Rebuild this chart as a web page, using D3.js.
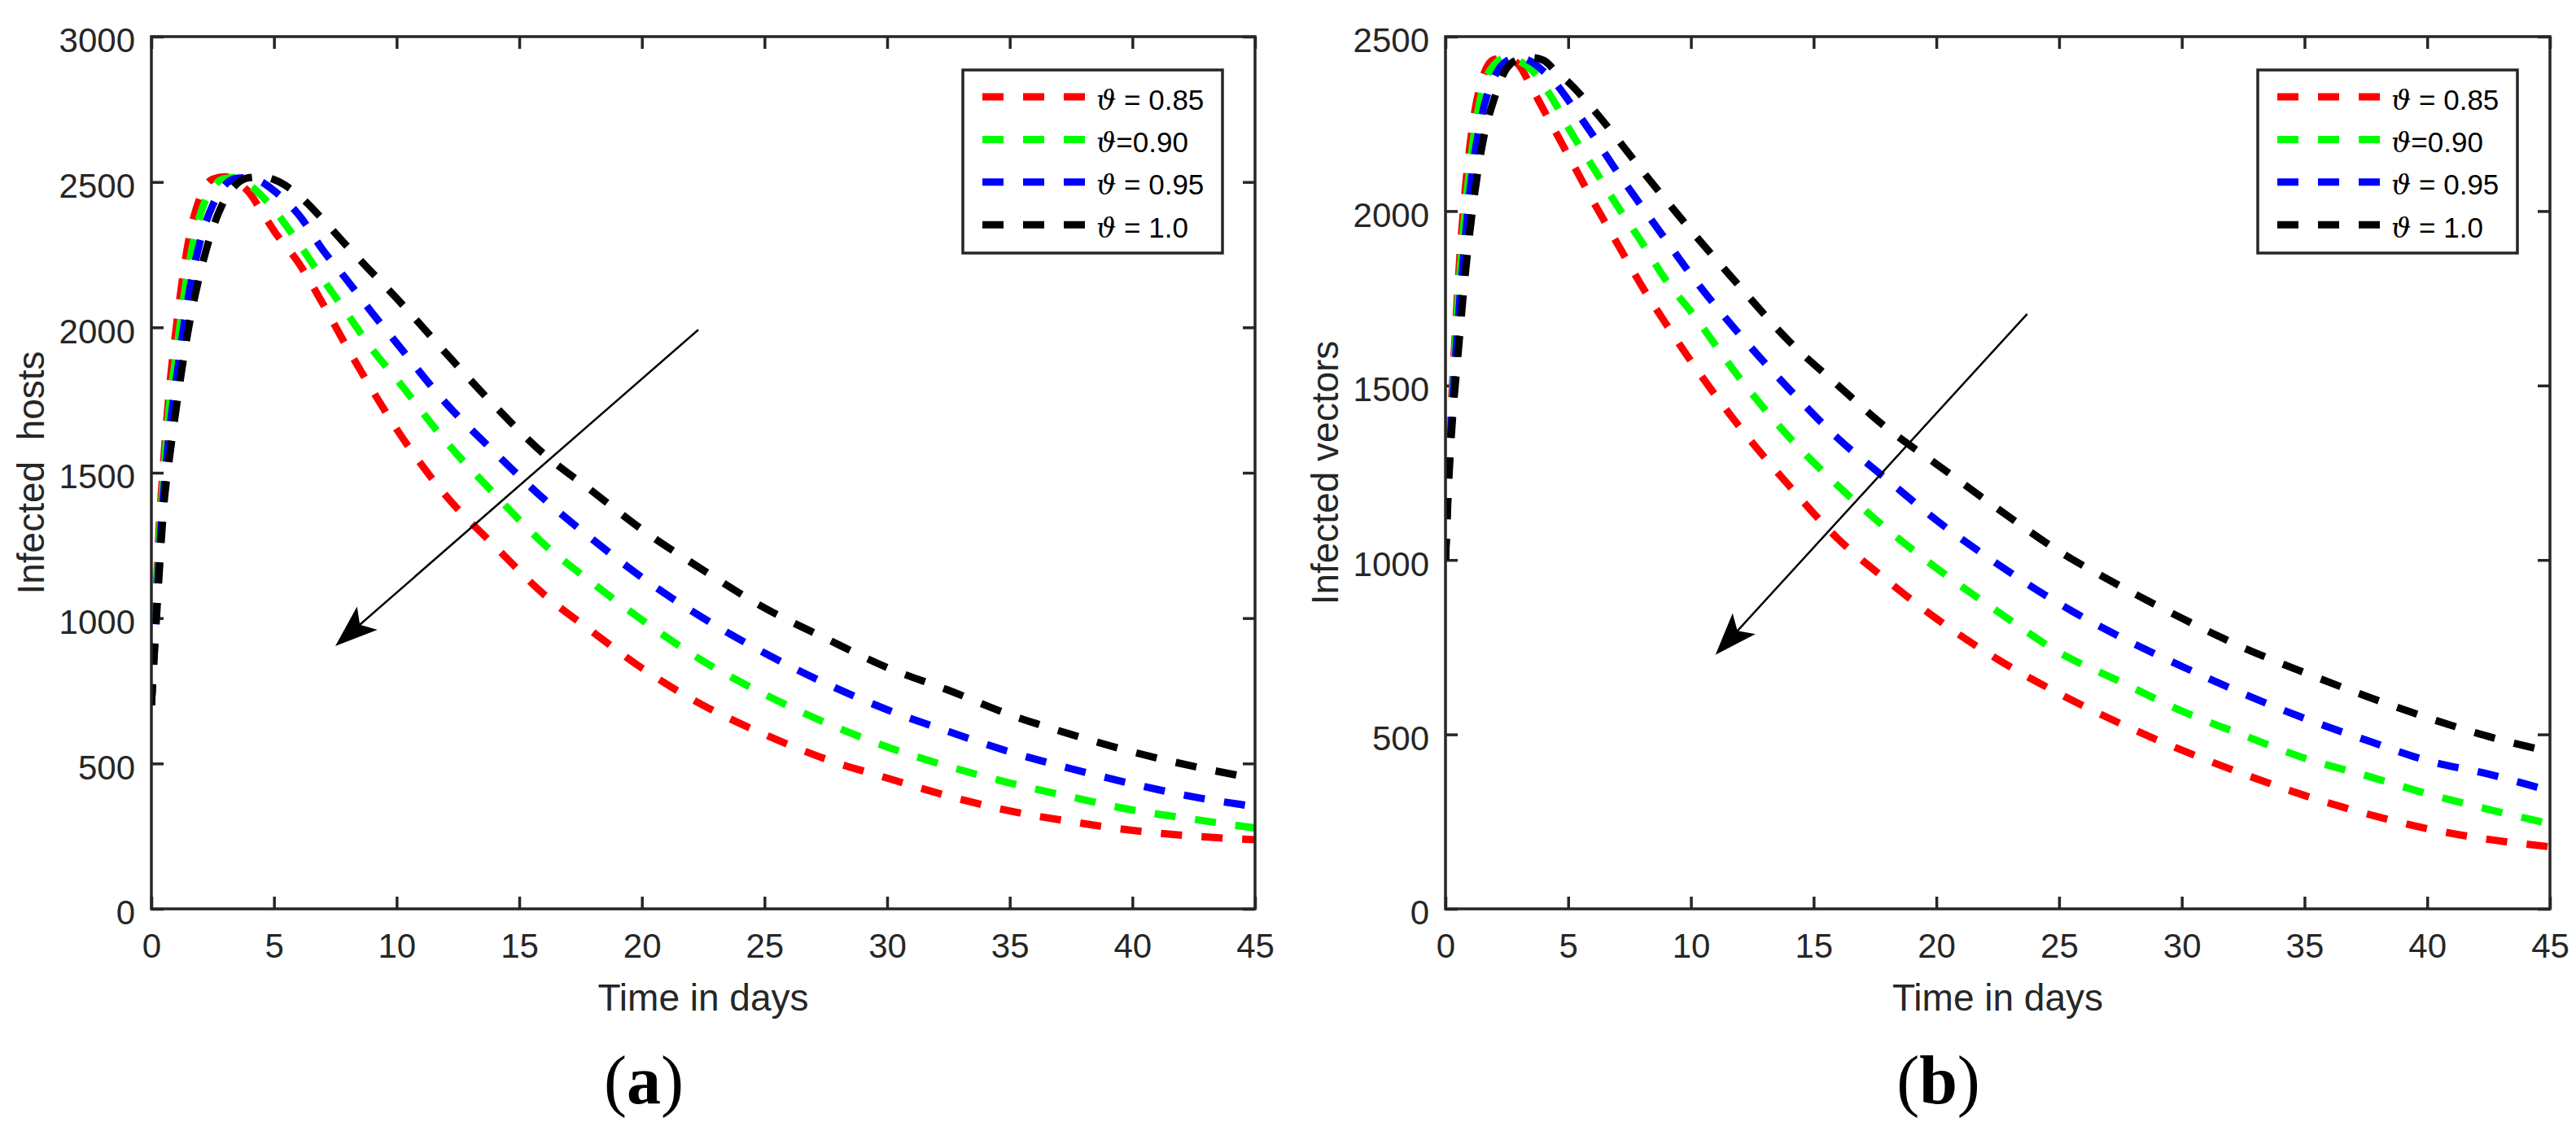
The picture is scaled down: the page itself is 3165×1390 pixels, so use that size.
<!DOCTYPE html>
<html>
<head>
<meta charset="utf-8">
<script src="https://cdnjs.cloudflare.com/ajax/libs/d3/7.8.5/d3.min.js"></script>
<style>
body{margin:0;background:#fff;}
</style>
</head>
<body>
<div id="fig"></div>
<script>

// tiempo (dias) comun a todas las series
var days = [0, 0.15, 0.3, 0.5, 0.75, 1, 1.5, 2, 2.5, 3, 3.5, 4, 4.5, 5, 6, 7, 8, 9, 10,
            12, 14, 16, 18, 20, 22.5, 25, 27.5, 30, 32.5, 35, 37.5, 40, 42.5, 45];

// (a) infected hosts
var hostsRed   = [700, 1000, 1280, 1540, 1800, 1990, 2290, 2450, 2510, 2518, 2500, 2462, 2398, 2332, 2222, 2080, 1928, 1785, 1650,
                  1422, 1248, 1082, 952, 828, 700, 600, 515, 450, 388, 337, 300, 270, 250, 238];
var hostsGreen = [700, 970, 1230, 1490, 1740, 1900, 2200, 2390, 2480, 2512, 2515, 2490, 2452, 2405, 2290, 2165, 2045, 1925, 1822,
                  1608, 1426, 1255, 1120, 994, 852, 738, 640, 557, 490, 433, 385, 340, 308, 278];
var hostsBlue  = [700, 940, 1180, 1430, 1650, 1810, 2100, 2300, 2420, 2490, 2513, 2515, 2500, 2470, 2388, 2265, 2160, 2050, 1946,
                  1740, 1570, 1410, 1270, 1140, 1000, 880, 775, 685, 610, 540, 482, 430, 385, 352];
var hostsBlack = [700, 920, 1130, 1380, 1560, 1715, 1990, 2190, 2340, 2440, 2495, 2515, 2518, 2508, 2455, 2370, 2277, 2188, 2100,
                  1912, 1730, 1565, 1435, 1305, 1165, 1035, 930, 830, 752, 668, 600, 540, 490, 448];

// (b) infected vectors
var vectorsRed   = [1000, 1330, 1520, 1775, 2020, 2190, 2380, 2435, 2438, 2418, 2355, 2290, 2225, 2160, 2030, 1907, 1785, 1675, 1570,
                    1380, 1213, 1060, 941, 832, 715, 617, 531, 455, 387, 325, 273, 230, 199, 178];
var vectorsGreen = [1000, 1300, 1490, 1730, 1960, 2130, 2345, 2420, 2440, 2430, 2405, 2360, 2305, 2240, 2127, 2015, 1910, 1800, 1712,
                    1520, 1352, 1212, 1088, 977, 852, 735, 651, 567, 498, 432, 382, 330, 285, 244];
var vectorsBlue  = [1000, 1280, 1460, 1670, 1880, 2060, 2280, 2385, 2430, 2440, 2428, 2400, 2365, 2318, 2218, 2112, 2013, 1915, 1818,
                    1645, 1490, 1348, 1230, 1114, 988, 875, 779, 695, 617, 546, 484, 425, 386, 338];
var vectorsBlack = [1000, 1250, 1420, 1580, 1780, 1945, 2190, 2325, 2410, 2435, 2440, 2432, 2400, 2370, 2293, 2207, 2117, 2030, 1945,
                    1783, 1627, 1500, 1377, 1275, 1147, 1025, 925, 833, 749, 677, 610, 548, 494, 450];

var xTicks = [0, 5, 10, 15, 20, 25, 30, 35, 40, 45];
var hostTicks = [0, 500, 1000, 1500, 2000, 2500, 3000];
var vectorTicks = [0, 500, 1000, 1500, 2000, 2500];
var legendTexts = [" = 0.85", "=0.90", " = 0.95", " = 1.0"];
var colores = ["#ff0000", "#00ff00", "#0000ff", "#000000"];

// flecha: desde [t, valor] hasta [t, valor]
var arrowHosts = [[22.3, 1992], [7.5, 904]];
var arrowVectors = [[23.7, 1705], [11.0, 728]];

var W = 3165, H = 1390;
var ink = "#262626";
var sans = "'Liberation Sans', Arial, sans-serif";

var svg = d3.select("#fig").append("svg")
    .attr("width", W)
    .attr("height", H)
    .style("font-family", sans);
svg.append("rect").attr("width", W).attr("height", H).attr("fill", "#fff");

function panel(cfg){
    var left = cfg.left, right = cfg.right, top = 45, bottom = 1117;
    var x = d3.scaleLinear().domain([0, 45]).range([left, right]);
    var y = d3.scaleLinear().domain([0, cfg.yMax]).range([bottom, top]);
    var g = svg.append("g").attr("class", "panel" + cfg.id);

    g.append("clipPath").attr("id", "clip" + cfg.id)
        .append("rect")
        .attr("x", left).attr("y", top)
        .attr("width", right - left).attr("height", bottom - top);

    // ejes con ticks hacia adentro en los cuatro lados
    var styleAxis = function(sel){
        sel.select(".domain").remove();
        sel.attr("font-family", null).attr("font-size", null);
        sel.selectAll("line").attr("stroke", ink).attr("stroke-width", 3.5);
        sel.selectAll("text").attr("fill", ink).style("font-size", "42px").style("font-family", sans);
    };
    var fmt = d3.format("d");
    g.append("g").attr("transform", "translate(0," + bottom + ")")
        .call(d3.axisBottom(x).tickValues(xTicks).tickFormat(fmt).tickSizeInner(-15).tickSizeOuter(0).tickPadding(30))
        .call(styleAxis);
    g.append("g").attr("transform", "translate(0," + top + ")")
        .call(d3.axisTop(x).tickValues(xTicks).tickSizeInner(-15).tickSizeOuter(0).tickFormat(""))
        .call(styleAxis);
    g.append("g").attr("transform", "translate(" + left + ",0)")
        .call(d3.axisLeft(y).tickValues(cfg.yTicks).tickFormat(fmt).tickSizeInner(-15).tickSizeOuter(0).tickPadding(20))
        .call(styleAxis)
        .selectAll("text").attr("dy", "0.45em");
    g.append("g").attr("transform", "translate(" + right + ",0)")
        .call(d3.axisRight(y).tickValues(cfg.yTicks).tickSizeInner(-15).tickSizeOuter(0).tickFormat(""))
        .call(styleAxis);

    //curvas
    var line = d3.line()
        .x(function(d){ return x(d[0]); })
        .y(function(d){ return y(d[1]); })
        .curve(d3.curveMonotoneX);
    var curvas = g.append("g").attr("clip-path", "url(#clip" + cfg.id + ")");
    cfg.series.forEach(function(serie, i){
        curvas.append("path")
            .datum(days.map(function(t, k){ return [t, serie[k]]; }))
            .attr("d", line)
            .attr("fill", "none")
            .attr("stroke", colores[i])
            .attr("stroke-width", 9)
            .attr("stroke-dasharray", "26,24")
            .attr("stroke-linecap", "butt");
    });

    // caja
    g.append("rect")
        .attr("x", left).attr("y", top)
        .attr("width", right - left).attr("height", bottom - top)
        .attr("fill", "none").attr("stroke", ink).attr("stroke-width", 3.5);

    // flecha
    var p0 = [x(cfg.arrow[0][0]), y(cfg.arrow[0][1])];
    var p1 = [x(cfg.arrow[1][0]), y(cfg.arrow[1][1])];
    var dx = p1[0] - p0[0], dy = p1[1] - p0[1];
    var len = Math.sqrt(dx*dx + dy*dy);
    var ux = dx/len, uy = dy/len, nx = -uy, ny = ux;
    var L = 52, hw = 19, notch = 40;
    g.append("line")
        .attr("x1", p0[0]).attr("y1", p0[1])
        .attr("x2", p1[0] - ux*notch).attr("y2", p1[1] - uy*notch)
        .attr("stroke", "#000").attr("stroke-width", 2.5);
    var head = [
        [p1[0], p1[1]],
        [p1[0] - ux*L + nx*hw, p1[1] - uy*L + ny*hw],
        [p1[0] - ux*notch, p1[1] - uy*notch],
        [p1[0] - ux*L - nx*hw, p1[1] - uy*L - ny*hw]
    ];
    g.append("polygon")
        .attr("points", head.map(function(p){ return p.join(","); }).join(" "))
        .attr("fill", "#000");

    // leyenda
    var lw = 319, lh = 225;
    var lx = right - 40 - lw, ly = top + 41;
    var leg = g.append("g").attr("class", "leyenda");
    leg.append("rect")
        .attr("x", lx).attr("y", ly).attr("width", lw).attr("height", lh)
        .attr("fill", "#fff").attr("stroke", ink).attr("stroke-width", 3.5);
    legendTexts.forEach(function(t, i){
        var ry = ly + 33 + i*52.4;
        leg.append("line")
            .attr("x1", lx + 24).attr("y1", ry)
            .attr("x2", lx + 150).attr("y2", ry)
            .attr("stroke", colores[i]).attr("stroke-width", 9)
            .attr("stroke-dasharray", "26,24");
        var tx = leg.append("text")
            .attr("x", lx + 164).attr("y", ry + 15.5)
            .attr("fill", "#000")
            .style("font-size", "35px")
            .style("white-space", "pre");
        tx.append("tspan")
            .style("font-family", "'DejaVu Serif', serif")
            .style("font-style", "italic")
            .style("font-size", "34px")
            .text("\u03D1");
        tx.append("tspan").text(t);
    });

    // etiquetas
    g.append("text")
        .attr("x", (left + right)/2).attr("y", bottom + 125)
        .attr("text-anchor", "middle").attr("fill", ink)
        .style("font-size", "46px")
        .text("Time in days");
    g.append("text")
        .attr("transform", "translate(" + (left - 132) + "," + ((top + bottom)/2) + ") rotate(-90)")
        .attr("text-anchor", "middle").attr("fill", ink)
        .style("font-size", "46px")
        .style("white-space", "pre")
        .text(cfg.ylabel);

    var letra = g.append("text")
        .attr("x", (left + right)/2 - 73).attr("y", 1356)
        .attr("text-anchor", "middle")
        .attr("fill", "#000")
        .style("font-family", "'Liberation Serif', 'Times New Roman', serif")
        .style("font-size", "84px");
    letra.append("tspan").text("(");
    letra.append("tspan").style("font-weight", "bold").text(cfg.id);
    letra.append("tspan").text(")");
}

panel({id: "a", left: 186, right: 1542, yMax: 3000, yTicks: hostTicks,
       series: [hostsRed, hostsGreen, hostsBlue, hostsBlack],
       ylabel: "Infected  hosts", arrow: arrowHosts});
panel({id: "b", left: 1776, right: 3133, yMax: 2500, yTicks: vectorTicks,
       series: [vectorsRed, vectorsGreen, vectorsBlue, vectorsBlack],
       ylabel: "Infected vectors", arrow: arrowVectors});

</script>
</body>
</html>
